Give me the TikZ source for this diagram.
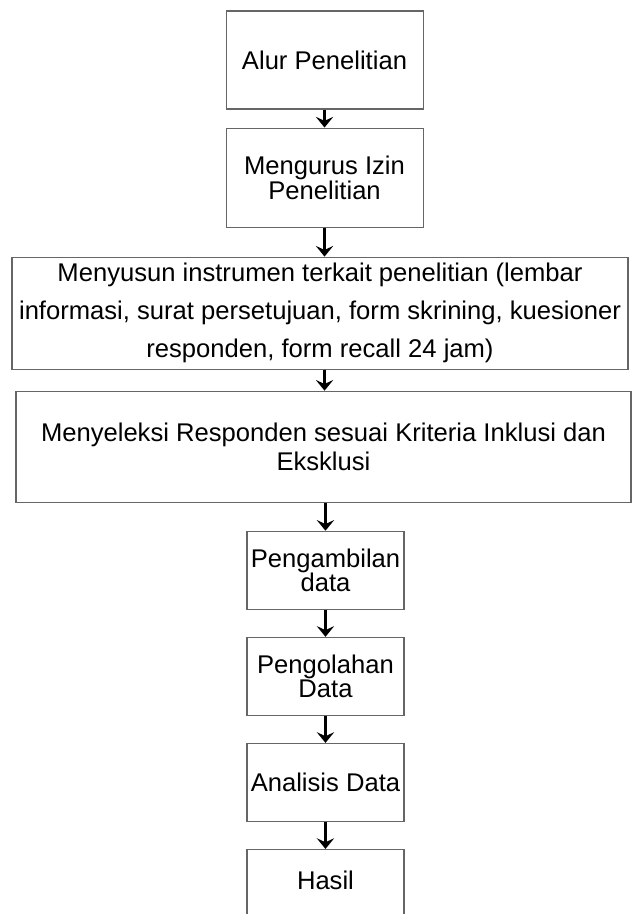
\documentclass[tikz,border=0pt]{standalone}
\usepackage{fontspec}
\setmainfont{Liberation Sans}
\usetikzlibrary{positioning,arrows.meta}

\begin{document}
\begin{tikzpicture}[
    node distance=20.25pt,
    stepbox/.style={rectangle, draw=black!60, line width=0.8pt, align=center, inner sep=2pt,
      font=\fontsize{19.2}{19}\selectfont},
    widebox/.style={stepbox, minimum width=462pt, minimum height=84pt},
    smallbox/.style={stepbox, minimum width=117.75pt, minimum height=58.5pt},
    arrow/.style={-{Stealth[length=8pt, width=13pt, inset=3pt]}, line width=2.4pt, color=black}
]
\useasboundingbox (0,0) rectangle (474pt,-685.5pt);
\clip (0,0) rectangle (474pt,-685.5pt);
\node[stepbox, minimum width=147.75pt, minimum height=73.5pt] (alur) at (243.4pt,-45pt) {Alur Penelitian};
\node[stepbox, minimum width=147.75pt, minimum height=74.25pt, below=13.5pt of alur] (izin) {Mengurus Izin\\Penelitian};
\node[widebox, below=21.75pt of izin, xshift=-3.4pt,
  font=\fontsize{19.2}{28.5}\selectfont] (instrumen) {Menyusun instrumen terkait penelitian (lembar\\informasi, surat persetujuan, form skrining, kuesioner\\responden, form recall 24 jam)};
\node[widebox, minimum width=461.25pt, minimum height=83.25pt, below=15.75pt of instrumen, xshift=2.6pt,
  font=\fontsize{19.2}{21.5}\selectfont] (seleksi) {Menyeleksi Responden sesuai Kriteria Inklusi dan\\Eksklusi};
\node[smallbox, below=21pt of seleksi, xshift=1.5pt, font=\fontsize{19.2}{18.5}\selectfont] (ambil) {Pengambilan\\data};
\node[smallbox, below=of ambil, font=\fontsize{19.2}{18.5}\selectfont] (olah) {Pengolahan\\Data};
\node[smallbox, below=of olah] (analisis) {Analisis Data};
\node[smallbox, minimum height=67.5pt, text depth=22pt, below=of analisis] (hasil) {Hasil};
\draw[arrow] (alur) -- (izin);
\draw[arrow] (izin.south) -- (izin.south |- instrumen.north);
\draw[arrow] (instrumen.south -| izin.south) -- (izin.south |- seleksi.north);
\draw[arrow] (seleksi.south -| ambil.north) -- (ambil.north);
\draw[arrow] (ambil) -- (olah);
\draw[arrow] (olah) -- (analisis);
\draw[arrow] (analisis) -- (hasil);
\end{tikzpicture}
\end{document}
